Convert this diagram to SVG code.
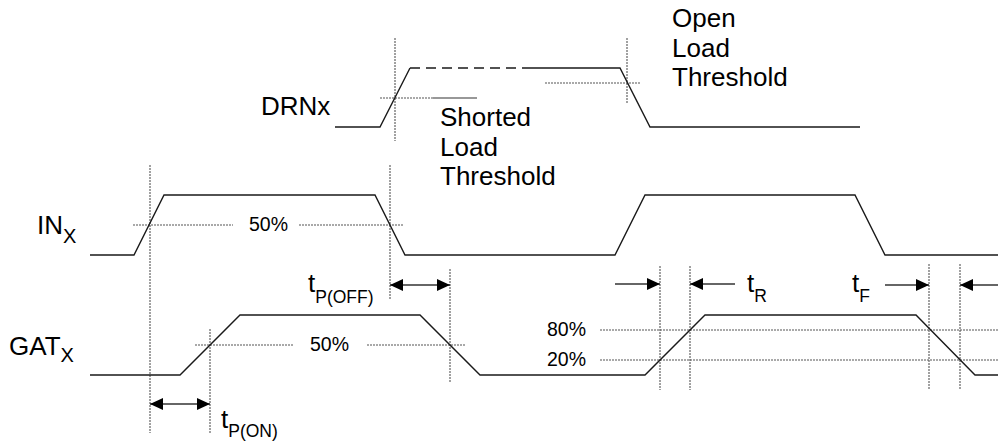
<svg xmlns="http://www.w3.org/2000/svg" width="998" height="447" viewBox="0 0 998 447">
<style>
.w{fill:none;stroke:#1a1a1a;stroke-width:1.4;stroke-linejoin:miter}
.dash{fill:none;stroke:#1a1a1a;stroke-width:1.4;stroke-dasharray:10,6}
.dot{fill:none;stroke:#555;stroke-width:1.1;stroke-dasharray:2,1}
.thin{fill:none;stroke:#333;stroke-width:1.2}
.arr{fill:none;stroke:#333;stroke-width:1.4}
text{font-family:"Liberation Sans",Arial,sans-serif;fill:#000}
.big{font-size:26px}
.pct{font-size:19.5px}
.sub{font-size:17.5px}
.lsub{font-size:20px}
</style>
<defs>
<marker id="ah" markerUnits="userSpaceOnUse" markerWidth="14" markerHeight="14" viewBox="0 0 14 12" refX="13" refY="6" orient="auto-start-reverse">
<path d="M0,0 L13,6 L0,12 z" fill="#000"/>
</marker>
</defs>

<g id="guides">
<line class="dot" x1="395" y1="38" x2="395" y2="141"/>
<line class="dot" x1="627" y1="38" x2="627" y2="104"/>
<line class="dot" x1="150" y1="165" x2="150" y2="433"/>
<line class="dot" x1="390" y1="165" x2="390" y2="300"/>
<line class="dot" x1="450" y1="269" x2="450" y2="383"/>
<line class="dot" x1="210" y1="329" x2="210" y2="433"/>
<line class="dot" x1="660" y1="266" x2="660" y2="390"/>
<line class="dot" x1="690" y1="266" x2="690" y2="390"/>
<line class="dot" x1="929" y1="264" x2="929" y2="390"/>
<line class="dot" x1="960" y1="264" x2="960" y2="390"/>
<line class="dot" x1="380" y1="98" x2="433" y2="98"/>
<line class="thin" x1="433" y1="98" x2="477" y2="98"/>
<line class="dot" x1="545" y1="83" x2="641" y2="83"/>
<line class="dot" x1="133" y1="225" x2="233" y2="225"/>
<line class="dot" x1="299" y1="225" x2="404" y2="225"/>
<line class="dot" x1="195" y1="345" x2="293" y2="345"/>
<line class="dot" x1="367" y1="345" x2="465" y2="345"/>
<line class="dot" x1="600" y1="330" x2="998" y2="330"/>
<line class="dot" x1="600" y1="360" x2="998" y2="360"/>
</g>

<g id="drnx">
<polyline class="w" points="335,127 380,127 410,68"/>
<line class="dash" x1="410" y1="68" x2="527" y2="68"/>
<polyline class="w" points="527,68 620,68 650,127 860,127"/>
<text class="big" x="261" y="115">DRNx</text>
</g>

<g id="shorted-label">
<text class="big" x="440" y="126">Shorted</text>
<text class="big" x="440" y="156">Load</text>
<text class="big" x="440" y="185">Threshold</text>
</g>

<g id="open-label">
<text class="big" x="672" y="27">Open</text>
<text class="big" x="672" y="57">Load</text>
<text class="big" x="672" y="86">Threshold</text>
</g>

<g id="inx">
<polyline class="w" points="90,255 134,255 164,195 375,195 405,255 615,255 645,195 855,195 885,255 998,255"/>
<text class="big" x="37" y="234">IN<tspan class="lsub" dy="9">X</tspan></text>
<text class="pct" x="249" y="231">50%</text>
</g>

<g id="gatx">
<polyline class="w" points="90,375 180,375 240,315 420,315 480,375 645,375 705,315 916,315 975,375 998,375"/>
<text class="big" x="9" y="355">GAT<tspan class="lsub" dy="7">X</tspan></text>
<text class="pct" x="310" y="351">50%</text>
<text class="pct" x="547" y="336">80%</text>
<text class="pct" x="547" y="366">20%</text>
</g>

<g id="timing-labels">
<text class="big" x="308" y="292">t<tspan class="sub" dy="11">P(OFF)</tspan></text>
<text class="big" x="221" y="428">t<tspan class="sub" dy="9">P(ON)</tspan></text>
<text class="big" x="747" y="292">t<tspan class="sub" dy="10">R</tspan></text>
<text class="big" x="852" y="292">t<tspan class="sub" dy="10">F</tspan></text>
</g>

<g id="connectors">
<line class="arr" x1="390" y1="285" x2="450" y2="285" marker-start="url(#ah)" marker-end="url(#ah)"/>
<line class="arr" x1="150" y1="404" x2="210" y2="404" marker-start="url(#ah)" marker-end="url(#ah)"/>
<line class="arr" x1="615" y1="284" x2="660" y2="284" marker-end="url(#ah)"/>
<line class="arr" x1="735" y1="284" x2="690" y2="284" marker-end="url(#ah)"/>
<line class="arr" x1="885" y1="285" x2="929" y2="285" marker-end="url(#ah)"/>
<line class="arr" x1="998" y1="285" x2="960" y2="285" marker-end="url(#ah)"/>
</g>
</svg>
